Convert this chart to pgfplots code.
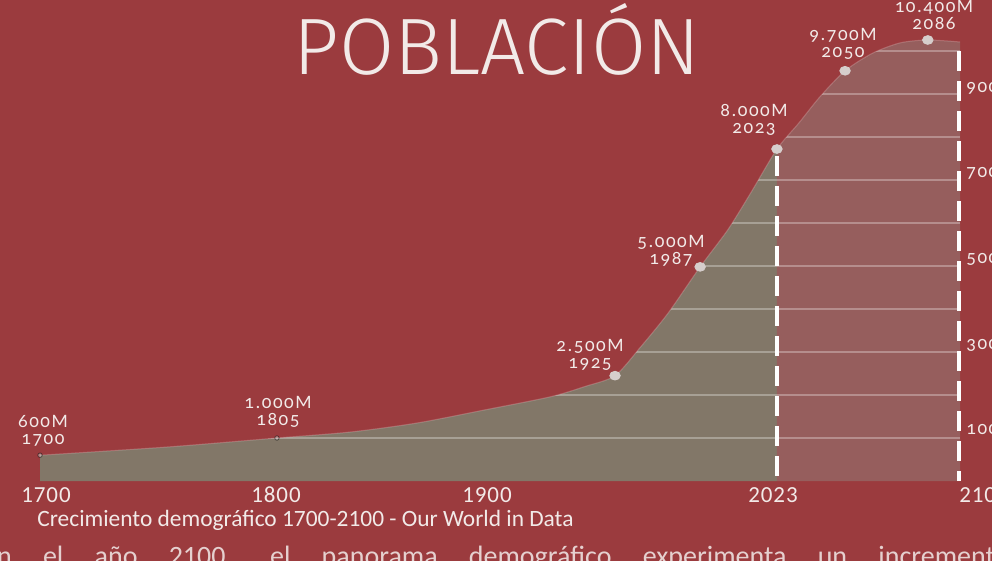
\documentclass[border=0pt]{standalone}
\usepackage{pgfplots}
\pgfplotsset{compat=1.18}
\usepgfplotslibrary{fillbetween}
\usepackage{fontspec}
\setmainfont{Carlito}
\newfontfamily\lab{Carlito}[Numbers=OldStyle, LetterSpace=8]
\newfontfamily\tck{Carlito}[LetterSpace=4]
\newfontfamily\titlefont{Fira Sans Light}
\definecolor{bgred}{RGB}{155,59,62}
\definecolor{areag}{RGB}{130,119,104}
\definecolor{areap}{RGB}{150,94,93}
\definecolor{txt}{RGB}{242,234,232}
\definecolor{dotc}{RGB}{214,206,204}

\pgfplotstableread{
year pop
1700 600
1755 790
1803 1000
1835 1140
1864 1350
1893 1650
1922 1960
1937 2200
1950 2450
1961 3110
1973 3900
1987 4980
1999 5840
2009 6700
2020.4 7720
2030 8330
2039 8930
2050 9540
2062 9950
2074 10190
2086 10256
2100 10210
}\curvedata

\pgfplotstableread{
year pop
1950 2450
1987 4980
2020.4 7720
2050 9540
2086 10256
}\pointdata

\pgfplotstableread{
year pop
1700 600
1803 1000
}\faintpoints

\begin{document}
\begin{tikzpicture}
\begin{axis}[at={(0,0)}, anchor=south west, width=496pt, height=280.5pt,
  scale only axis, xmin=1682.6, xmax=2113.9, ymin=-1860, ymax=11186,
  axis lines=none, xtick=\empty, ytick=\empty, clip=false,
  axis background/.style={fill=bgred}]
  \addplot[draw=none, smooth, tension=0.45, name path=curve] table[x=year,y=pop] {\curvedata};
  \addplot[draw=none, name path=base] coordinates {(1700,0) (2100,0)};
  \addplot[draw=none, name path=top] coordinates {(1700,11300) (2100,11300)};
  \addplot[fill=areag, draw=none] fill between[of=curve and base, soft clip={domain=1700:2020.4}];
  \addplot[fill=areap, draw=none] fill between[of=curve and base, soft clip={domain=2020.4:2100}];
  % grid lines
  \addplot[white, opacity=0.3, line width=0.7pt] coordinates {(1700,1000) (2100,1000)};
  \addplot[white, opacity=0.3, line width=0.7pt] coordinates {(1700,2000) (2100,2000)};
  \addplot[white, opacity=0.3, line width=0.7pt] coordinates {(1700,3000) (2100,3000)};
  \addplot[white, opacity=0.3, line width=0.7pt] coordinates {(1700,4000) (2100,4000)};
  \addplot[white, opacity=0.3, line width=0.7pt] coordinates {(1700,5000) (2100,5000)};
  \addplot[white, opacity=0.3, line width=0.7pt] coordinates {(1700,6000) (2100,6000)};
  \addplot[white, opacity=0.3, line width=0.7pt] coordinates {(1700,7000) (2100,7000)};
  \addplot[white, opacity=0.3, line width=0.7pt] coordinates {(1700,8000) (2100,8000)};
  \addplot[white, opacity=0.3, line width=0.7pt] coordinates {(1700,9000) (2100,9000)};
  \addplot[white, opacity=0.3, line width=0.7pt] coordinates {(1700,10000) (2100,10000)};
  % cover above the curve
  \addplot[fill=bgred, draw=none] fill between[of=curve and top, soft clip={domain=1700:2100}, on layer=main];
  \addplot[white, opacity=0.22, line width=0.5pt, smooth, tension=0.45] table[x=year,y=pop] {\curvedata};
  % dashed lines
  \addplot[white, line width=2.2pt, dash pattern=on 10pt off 5pt] coordinates {(2020.4,7560) (2020.4,0)};
  \addplot[white, line width=2.2pt, dash pattern=on 10pt off 5pt] coordinates {(2099.6,9990) (2099.6,0)};
  % points
  \addplot[only marks, mark=*, mark size=2.2pt, mark options={fill=dotc, draw=dotc, xscale=1.2}] table[x=year,y=pop] {\pointdata};
  \addplot[only marks, mark=*, mark size=1.1pt, mark options={fill=dotc, draw=none, opacity=0.5}] table[x=year,y=pop] {\faintpoints};
\end{axis}
\begin{scope}[shift={(0pt,280.5pt)}, x=0.5pt, y=-0.5pt, text=txt]
  \node[anchor=base, font=\titlefont\fontsize{40}{40}\selectfont] at (497,75) {POBLACIÓN};
  \begin{scope}[every node/.style={align=center, font=\lab\fontsize{9.5}{8.5}\selectfont, inner sep=0pt}]
    \node at (43,431) {600M\\1700};
    \node at (278,412) {1.000M\\1805};
    \node at (590,355) {2.500M\\1925};
    \node at (671,251) {5.000M\\1987};
    \node at (754,120) {8.000M\\2023};
    \node at (843,44) {9.700M\\2050};
    \node at (934,15) {10.400M\\2086};
  \end{scope}
  \begin{scope}[every node/.style={anchor=west, font=\lab\fontsize{9.5}{9.5}\selectfont, inner sep=0pt}]
    \node at (966,430) {1000};
    \node at (966,345) {3000};
    \node at (966,259) {5000};
    \node at (966,173) {7000};
    \node at (966,88) {9000};
  \end{scope}
  \begin{scope}[every node/.style={anchor=base, font=\tck\fontsize{11.5}{11.5}\selectfont, inner sep=0pt}]
    \node at (46,503) {1700};
    \node at (276,503) {1800};
    \node at (487,503) {1900};
    \node at (773,503) {2023};
    \node at (984,503) {2100};
  \end{scope}
  \node[anchor=base west, inner sep=0pt, font=\fontsize{11.7}{11.7}\selectfont] at (37,527) {Crecimiento demográfico 1700-2100 - Our World in Data};
  \node[anchor=base west, inner sep=0pt, font=\fontsize{14}{14}\selectfont, text=txt!85!bgred] at (-17,566) {\makebox[513pt][s]{En el año 2100, el panorama demográfico experimenta un incremento}};
\end{scope}
\pgfresetboundingbox
\useasboundingbox (0,0) rectangle (496pt,280.5pt);
\end{tikzpicture}
\end{document}
